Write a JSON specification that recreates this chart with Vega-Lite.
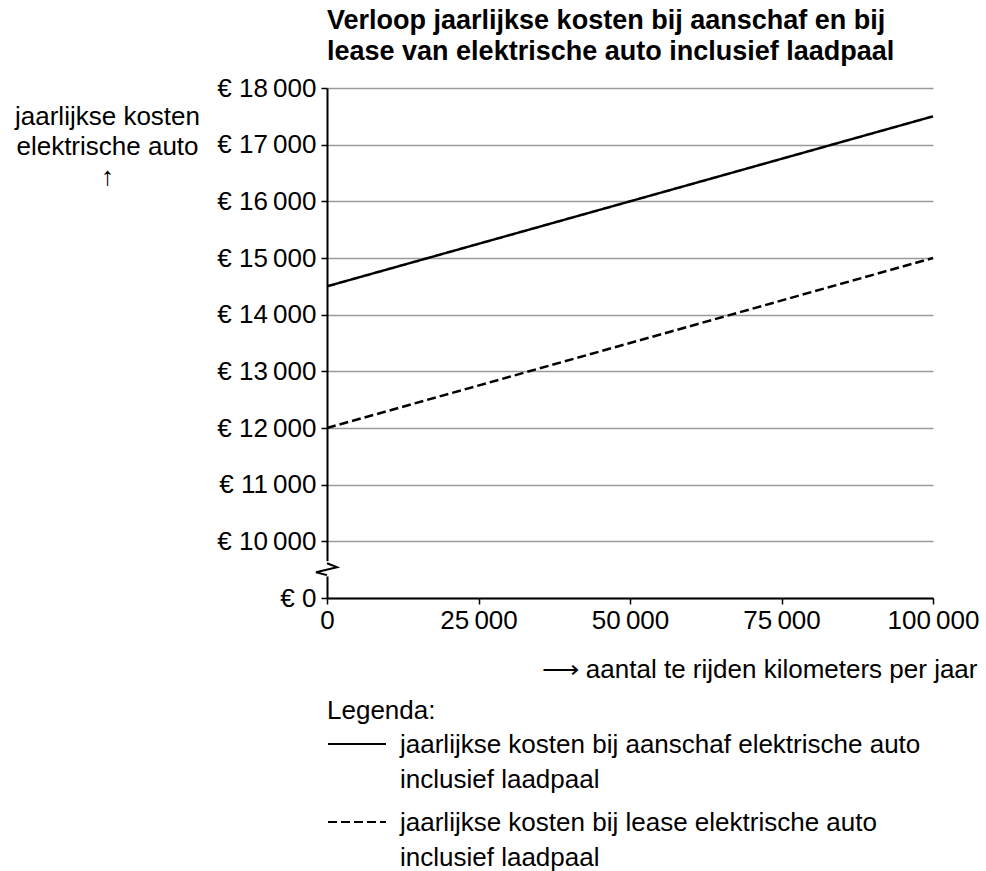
{
  "$schema": "https://vega.github.io/schema/vega-lite/v6.json",
  "width": 606,
  "height": 510,
  "autosize": "none",
  "padding": {"left": 327, "top": 88, "right": 53, "bottom": 273},
  "background": "white",
  "config": {
    "font": "Liberation Sans",
    "view": {"stroke": null},
    "axis": {"labelFont": "Liberation Sans", "titleFont": "Liberation Sans", "labelColor": "black", "titleColor": "black"},
    "legend": {"labelFont": "Liberation Sans", "titleFont": "Liberation Sans"},
    "style": {"guide-label": {"lineHeight": 35}}
  },
  "title": {
    "text": ["Verloop jaarlijkse kosten bij aanschaf en bij", "lease van elektrische auto inclusief laadpaal"],
    "anchor": "start",
    "frame": "group",
    "fontSize": 27,
    "fontWeight": "bold",
    "color": "black",
    "lineHeight": 31,
    "offset": 9
  },
  "datasets": {
    "costs": [
      {"km": 0, "kosten": 14500, "series": "aanschaf"},
      {"km": 100000, "kosten": 17500, "series": "aanschaf"},
      {"km": 0, "kosten": 12000, "series": "lease"},
      {"km": 100000, "kosten": 15000, "series": "lease"}
    ],
    "gap": [
      {"km": 0, "kosten": 9650},
      {"km": 0, "kosten": 9380}
    ],
    "zigzag": [
      {"order": 1, "km": 0, "kosten": 9614},
      {"order": 2, "km": 1650, "kosten": 9544},
      {"order": 3, "km": -1815, "kosten": 9456},
      {"order": 4, "km": 0, "kosten": 9404}
    ]
  },
  "layer": [
    {
      "data": {"name": "costs"},
      "mark": {"type": "line", "color": "black", "strokeWidth": 2.5},
      "encoding": {
        "x": {
          "field": "km", "type": "quantitative",
          "scale": {"domain": [0, 100000], "nice": false, "zero": false},
          "axis": {
            "values": [0, 25000, 50000, 75000, 100000],
            "labelExpr": "replace(format(datum.value, ','), ',', '\u2009')",
            "labelFontSize": 26,
            "labelPadding": 3,
            "tickSize": 6,
            "tickColor": "black",
            "tickWidth": 1.5,
            "domainColor": "black",
            "domainWidth": 2,
            "grid": false,
            "labelFlush": false,
            "title": "⟶ aantal te rijden kilometers per jaar",
            "titleFontSize": 26,
            "titleFontWeight": "normal",
            "titleAlign": "right",
            "titleAnchor": "end",
            "titleBaseline": "alphabetic",
            "titleX": 650,
            "titleY": 79
          }
        },
        "y": {
          "field": "kosten", "type": "quantitative",
          "scale": {"domain": [9000, 18000], "nice": false, "zero": false},
          "axis": {
            "values": [9000, 10000, 11000, 12000, 13000, 14000, 15000, 16000, 17000, 18000],
            "labelExpr": "datum.value == 9000 ? '€ 0' : '€ ' + replace(format(datum.value, ','), ',', '\u2009')",
            "labelFontSize": 26,
            "labelPadding": 5,
            "tickSize": 6,
            "tickColor": "black",
            "tickWidth": 1.5,
            "domainColor": "black",
            "domainWidth": 2,
            "grid": true,
            "gridColor": "#9a9a9a",
            "gridWidth": 1.5,
            "title": ["jaarlijkse kosten", "elektrische auto", "↑"],
            "titleFontSize": 26,
            "titleFontWeight": "normal",
            "titleAngle": 0,
            "titleAlign": "center",
            "titleBaseline": "alphabetic",
            "titleLineHeight": 30,
            "titleX": -220,
            "titleY": 36
          }
        },
        "strokeDash": {
          "field": "series", "type": "nominal",
          "scale": {"domain": ["aanschaf", "lease"], "range": [[1, 0], [9, 4]]},
          "legend": {
            "orient": "none",
            "legendX": 0,
            "legendY": 610,
            "title": "Legenda:",
            "titleFontSize": 26,
            "titleFontWeight": "normal",
            "titleColor": "black",
            "titlePadding": -1,
            "labelFontSize": 26,
            "labelColor": "black",
            "labelLimit": 700,
            "labelExpr": "datum.value == 'aanschaf' ? ['jaarlijkse kosten bij aanschaf elektrische auto', 'inclusief laadpaal'] : ['jaarlijkse kosten bij lease elektrische auto', 'inclusief laadpaal']",
            "labelBaseline": "alphabetic",
            "labelOffset": 13,
            "symbolType": "M-1,-0.31L1,-0.31",
            "symbolSize": 3364,
            "symbolStrokeWidth": 2,
            "symbolStrokeColor": "black",
            "rowPadding": 8
          }
        }
      }
    },
    {
      "data": {"name": "gap"},
      "mark": {"type": "line", "color": "white", "strokeWidth": 4},
      "encoding": {
        "x": {"field": "km", "type": "quantitative"},
        "y": {"field": "kosten", "type": "quantitative"}
      }
    },
    {
      "data": {"name": "zigzag"},
      "mark": {"type": "line", "color": "black", "strokeWidth": 2},
      "encoding": {
        "x": {"field": "km", "type": "quantitative"},
        "y": {"field": "kosten", "type": "quantitative"},
        "order": {"field": "order", "type": "quantitative"}
      }
    }
  ]
}
